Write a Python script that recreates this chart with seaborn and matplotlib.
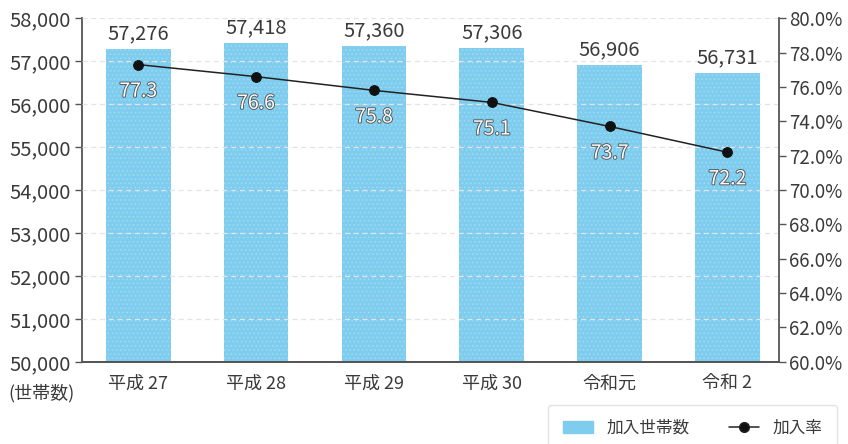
import matplotlib.pyplot as plt
import matplotlib.patheffects as pe
import pandas as pd
import numpy as np
import seaborn as sns

nendo = ['平成 27', '平成 28', '平成 29', '平成 30', '令和元', '令和 2']
setaisu = [57276, 57418, 57360, 57306, 56906, 56731]
kanyuritsu = [77.3, 76.6, 75.8, 75.1, 73.7, 72.2]

df = pd.DataFrame({'年度': nendo, '加入世帯数': setaisu, '加入率': kanyuritsu})
df['x'] = np.arange(len(df))

sns.set_style('white')
plt.rcParams['font.family'] = ['Noto Sans CJK JP', 'DejaVu Sans']
plt.rcParams['hatch.linewidth'] = 0.5

fig, ax = plt.subplots(figsize=(8.48, 4.44), dpi=100)
fig.subplots_adjust(left=0.097, right=0.919, top=0.959, bottom=0.185)

bar_color = '#7fcdee'
axis_color = '#555555'
text_color = '#3a3a3a'

sns.barplot(data=df, x='年度', y='加入世帯数', color=bar_color, width=0.55,
            saturation=1, ax=ax, zorder=2)
for p in ax.patches:
    p.set_hatch('....')
    p.set_edgecolor('#a6dbf3')
    p.set_linewidth(0)

ax.set_ylim(50000, 58000)
ax.set_xlim(-0.475, 5.44)
ax.set_yticks(np.arange(50000, 58001, 1000))
ax.yaxis.set_major_formatter(plt.FuncFormatter(lambda v, _: f'{int(v):,}'))
ax.set_xlabel('')
ax.set_ylabel('')
for y in np.arange(51000, 58001, 1000):
    ax.axhline(y, color='#e4e4e4', lw=0.9, ls=(0, (4, 3)), zorder=3)

for i, v in enumerate(setaisu):
    ax.text(i, v + 350, f'{v:,}', ha='center', va='center', fontsize=14.5,
            color=text_color, zorder=5)

ax2 = ax.twinx()
sns.lineplot(data=df, x='x', y='加入率', color='#222222', lw=1.1, marker='o',
             markersize=7, markeredgecolor='#111111', markerfacecolor='#111111',
             ax=ax2, zorder=4)
ax2.set_ylim(60, 80)
ax2.set_yticks(np.arange(60, 80.1, 2))
ax2.yaxis.set_major_formatter(plt.FuncFormatter(lambda v, _: f'{v:.1f}%'))
ax2.set_xlabel('')
ax2.set_ylabel('')
ax2.set_xlim(-0.475, 5.44)

for i, v in enumerate(kanyuritsu):
    ax2.text(i, v - 1.55, f'{v}', ha='center', va='center', fontsize=14,
             color='white', zorder=6,
             path_effects=[pe.withStroke(linewidth=1.3, foreground='#555555')])

for a in (ax, ax2):
    a.spines['top'].set_visible(False)
    for s in ('left', 'right', 'bottom'):
        a.spines[s].set_color(axis_color)
        a.spines[s].set_linewidth(1.3)
    a.tick_params(axis='y', labelcolor=text_color,
                  color=axis_color, length=5, width=1, pad=3)
ax.spines['right'].set_visible(False)
ax2.spines['left'].set_visible(False)
ax.tick_params(axis='x', labelsize=13, labelcolor=text_color, length=0, pad=9)
ax.tick_params(axis='y', left=True, labelsize=14.5)
ax2.tick_params(axis='y', right=True, labelsize=13.5, pad=2)

fig.text(0.049, 0.115, '(世帯数)', ha='center', va='center', fontsize=13,
         color=text_color)

handles = [plt.Rectangle((0, 0), 1, 1, facecolor=bar_color, edgecolor=bar_color),
           plt.Line2D([0], [0], color='#222222', lw=1.1, marker='o',
                      markersize=7, markerfacecolor='#111111')]
leg = fig.legend(handles, ['加入世帯数', '加入率'], ncol=2, loc='upper left',
                 bbox_to_anchor=(0.646, 0.088), borderaxespad=0, fontsize=12,
                 frameon=True, fancybox=True, handlelength=1.8,
                 columnspacing=2.4, borderpad=0.9, labelcolor=text_color)
leg.get_frame().set_edgecolor('#dddddd')
leg.get_frame().set_linewidth(1)

fig.savefig('out.png', dpi=100)
